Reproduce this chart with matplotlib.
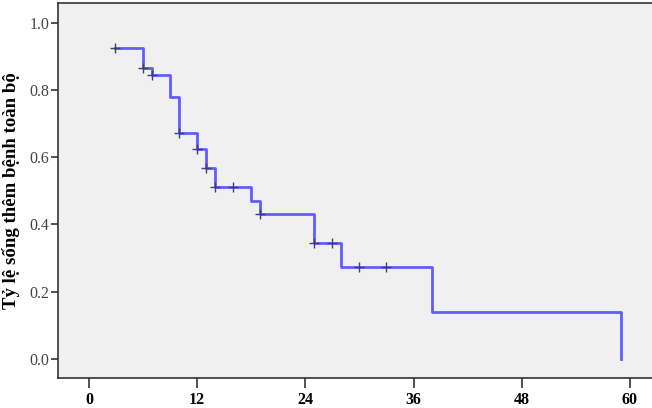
import numpy as np
import matplotlib
matplotlib.use("Agg")
import matplotlib.pyplot as plt

# Kaplan-Meier steps (months, survival)
event_times = [2.9, 6, 7, 9, 10, 12, 13, 14, 18, 19, 25, 28, 38, 59]
survival = [0.924, 0.866, 0.845, 0.780, 0.671, 0.624, 0.569, 0.510,
            0.471, 0.431, 0.344, 0.275, 0.139, 0.0]

# censored marks (time, survival)
censor_t = [2.9, 6, 7, 10, 12, 13, 14, 16, 19, 25, 27, 30, 33]
censor_s = [0.924, 0.866, 0.845, 0.671, 0.624, 0.569, 0.510, 0.510,
            0.431, 0.344, 0.344, 0.275, 0.275]

x_ticks = [0, 12, 24, 36, 48, 60]
y_ticks = [0.0, 0.2, 0.4, 0.6, 0.8, 1.0]
y_label = "Tỷ lệ sống thêm bệnh toàn bộ"

serif = ["Liberation Serif", "DejaVu Serif"]

fig = plt.figure(figsize=(6.52, 4.08), dpi=100)
ax = fig.add_axes([0.0894, 0.0743, 0.9106, 0.9176])
ax.set_facecolor("#f0f0f0")

ax.step(event_times, survival, where="post", color="#5f5fff", lw=2.0, zorder=3)
ax.plot(censor_t, censor_s, ls="none", marker="+", ms=6.5, mew=1.0,
        color="#404070", zorder=4)

ax.set_xlim(-3.4, 62.45)
ax.set_ylim(-0.0556, 1.0577)
ax.set_xticks(x_ticks)
ax.set_xticklabels([str(t) for t in x_ticks], fontweight="bold",
                   family=serif, fontsize=11.5)
ax.set_yticks(y_ticks)
ax.set_yticklabels(["%.1f" % v for v in y_ticks], family=serif,
                   fontsize=11.5, color="#444444")
ax.tick_params(axis="x", length=7, width=1.2, color="#333333", pad=3.5)
ax.tick_params(axis="y", length=5, width=1.2, color="#333333", pad=1.5)

for side in ["left", "bottom", "top"]:
    ax.spines[side].set_color("#333333")
    ax.spines[side].set_linewidth(1.2)
ax.spines["right"].set_visible(False)

ax.set_ylabel(y_label, fontweight="bold", family=serif, fontsize=13.5)
ax.yaxis.set_label_coords(-0.064, 0.5)

fig.savefig("out.png", dpi=100)
